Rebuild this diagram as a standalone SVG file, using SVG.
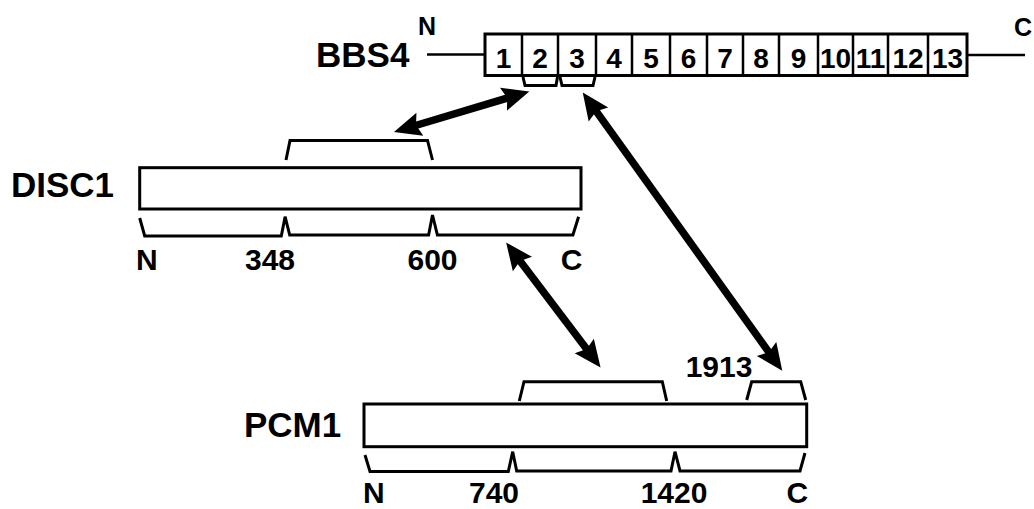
<svg xmlns="http://www.w3.org/2000/svg" width="1034" height="509" viewBox="0 0 1034 509">
<defs>
<style>
.t{font-family:"Liberation Sans",Arial,sans-serif;font-weight:bold;fill:#000}
.name{font-size:35px}
.lab{font-size:30px}
.num{font-size:28px;text-anchor:middle}
.box{fill:none;stroke:#000;stroke-width:3}
.br{fill:none;stroke:#000;stroke-width:3;stroke-linejoin:miter}
.ln{stroke:#000;stroke-width:2.5}
.arr{stroke:#000;stroke-width:7.5;fill:none;marker-start:url(#head);marker-end:url(#head)}
</style>
<marker id="head" markerUnits="userSpaceOnUse" viewBox="0 -13 28 26" refX="8" refY="0" markerWidth="28" markerHeight="26" orient="auto-start-reverse">
<path d="M0,-12 L27,0 L0,12 L4,0 Z" fill="#000"/>
</marker>
</defs>
<rect width="1034" height="509" fill="#fff"/>

<g id="BBS4">
<text class="t name" x="316" y="66.5">BBS4</text>
<text class="t" style="font-size:25px" x="418" y="35">N</text>
<text class="t" style="font-size:25px" x="1014" y="36">C</text>
<line class="ln" x1="427" y1="54.5" x2="485" y2="54.5"/>
<line class="ln" x1="967" y1="55" x2="1025" y2="55"/>
<rect class="box" x="485" y="34" width="482" height="41.5"/>
<path class="ln" fill="none" d="M522,34V75.5M558,34V75.5M596,34V75.5M632,34V75.5M670,34V75.5M707,34V75.5M743,34V75.5M779,34V75.5M818,34V75.5M853,34V75.5M888,34V75.5M928,34V75.5"/>
<text class="t num" x="503.5" y="68">1</text>
<text class="t num" x="540" y="68">2</text>
<text class="t num" x="577" y="68">3</text>
<text class="t num" x="614" y="68">4</text>
<text class="t num" x="651" y="68">5</text>
<text class="t num" x="688.5" y="68">6</text>
<text class="t num" x="725" y="68">7</text>
<text class="t num" x="761" y="68">8</text>
<text class="t num" x="798.5" y="68">9</text>
<text class="t num" x="835.5" y="68">10</text>
<text class="t num" x="870.5" y="68">11</text>
<text class="t num" x="908" y="68">12</text>
<text class="t num" x="947.5" y="68">13</text>
<path class="br" d="M523,77 L525,85.5 H556 L557.5,77"/>
<path class="br" d="M560,77 L562,85.5 H593 L595,77"/>
</g>

<g id="DISC1">
<text class="t name" x="11" y="197">DISC1</text>
<rect class="box" x="139.7" y="167.7" width="441.3" height="41.3"/>
<path class="br" d="M286,160 L290,140.5 H427.5 L432.5,160"/>
<path class="br" d="M139.7,218 L144.7,236 H281.3 L285.1,216.7 L289.7,235 H428.6 L432.5,215 L437.4,235 H572.9 L578.6,216.7"/>
<text class="t lab" x="136" y="270">N</text>
<text class="t lab" x="270" y="270" text-anchor="middle">348</text>
<text class="t lab" x="432.5" y="270" text-anchor="middle">600</text>
<text class="t lab" x="571.7" y="270" text-anchor="middle">C</text>
</g>

<g id="PCM1">
<text class="t name" x="244" y="436.7">PCM1</text>
<rect class="box" x="364" y="404" width="442.7" height="42.7"/>
<path class="br" d="M519.3,401 L524,381.7 H662.3 L666.7,401"/>
<path class="br" d="M746.7,400 L751.7,381.7 H800.7 L805.7,400"/>
<text class="t lab" x="719" y="376.7" text-anchor="middle">1913</text>
<path class="br" d="M365,455 L370,471.5 H508.3 L512.7,451.7 L516.7,471 H671 L675,451.7 L680,471 H800 L805,453"/>
<text class="t lab" x="363" y="503">N</text>
<text class="t lab" x="494" y="503" text-anchor="middle">740</text>
<text class="t lab" x="674" y="503" text-anchor="middle">1420</text>
<text class="t lab" x="797.3" y="503" text-anchor="middle">C</text>
</g>

<g id="connectors">
<line class="arr" x1="511.1" y1="96.9" x2="412.2" y2="126.5"/>
<line class="arr" x1="517.6" y1="257.7" x2="589.1" y2="352.3"/>
<line class="arr" x1="593.8" y1="107.9" x2="771.2" y2="355.4"/>
</g>
</svg>
